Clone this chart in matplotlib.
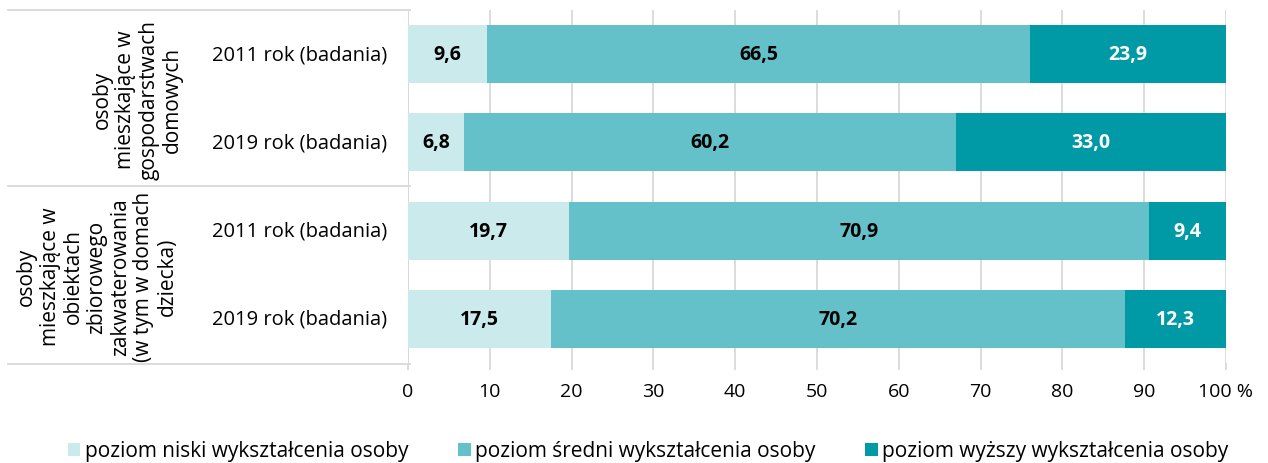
import matplotlib
matplotlib.use("Agg")
import matplotlib.pyplot as plt
from matplotlib.lines import Line2D
from matplotlib.patches import Patch

plt.rcParams['font.family'] = ['Open Sans', 'DejaVu Sans']

# Data
years = ["2011 rok (badania)", "2019 rok (badania)", "2011 rok (badania)", "2019 rok (badania)"]
groups = ["osoby\nmieszkające w\ngospodarstwach\ndomowych",
          "osoby\nmieszkające w\nobiektach\nzbiorowego\nzakwaterowania\n(w tym w domach\ndziecka)"]
low = [9.6, 6.8, 19.7, 17.5]
mid = [66.5, 60.2, 70.9, 70.2]
high = [23.9, 33.0, 9.4, 12.3]
series_names = ["poziom niski wykształcenia osoby",
                "poziom średni wykształcenia osoby",
                "poziom wyższy wykształcenia osoby"]
colors = ["#CBEAEC", "#64C1CA", "#009AA6"]
text_colors = ["black", "black", "white"]
xticks = [0, 10, 20, 30, 40, 50, 60, 70, 80, 90, 100]

fig = plt.figure(figsize=(12.68, 4.64), dpi=100)
ax = fig.add_axes([408/1268, 1 - 364/464, (1226-408)/1268, (364-11)/464])

ypos = list(range(len(years)))
series = [low, mid, high]
left = [0.0] * len(years)
for vals, col, tcol in zip(series, colors, text_colors):
    ax.barh(ypos, vals, left=left, height=0.66, color=col, zorder=3)
    for y, v, l in zip(ypos, vals, left):
        ax.text(l + v / 2, y, f"{v:.1f}".replace(".", ","), ha="center", va="center",
                fontsize=14, fontweight="bold", color=tcol, zorder=4)
    left = [a + b for a, b in zip(left, vals)]

ax.set_xlim(0, 100)
ax.set_ylim(len(years) - 0.5, -0.5)
ax.set_xticks(xticks)
ax.set_xticklabels([str(t) if t < 100 else "100 %" for t in xticks], fontsize=14)
ax.set_yticks([])
ax.grid(axis="x", color="#D9D9D9", linewidth=1.3, zorder=0)
ax.tick_params(axis="x", length=5, color="#D9D9D9", width=1.3, pad=9)
for s in ["top", "right", "left", "bottom"]:
    ax.spines[s].set_visible(False)
ax.axvline(0, color="#D9D9D9", linewidth=1.3, zorder=1)

# Category table on the left
for y, lab in zip(ypos, years):
    ax.text(-0.025, y, lab, transform=ax.get_yaxis_transform(), ha="right", va="center",
            fontsize=14.5)

def fig_hline(ypix):
    fig.add_artist(Line2D([8/1268, 410/1268], [1 - ypix/464, 1 - ypix/464],
                          color="#D9D9D9", linewidth=1.3))

for yp in [11, 187, 365]:
    fig_hline(yp)

fig.text(137/1268, 1 - 100/464, groups[0], rotation=90, ha="center", va="center",
         fontsize=15, linespacing=1.15, multialignment="center")
fig.text(97/1268, 1 - 277/464, groups[1], rotation=90, ha="center", va="center",
         fontsize=15, linespacing=1.15, multialignment="center")

handles = [Patch(facecolor=c, edgecolor="none") for c in colors]
fig.legend(handles, series_names, loc="center", bbox_to_anchor=(0.5 + 14/1268, 1 - 452/464),
           ncol=3, frameon=False, fontsize=15, handlelength=0.6, handleheight=0.6,
           handletextpad=0.2, columnspacing=2.4)

fig.savefig("out.png", dpi=100)
